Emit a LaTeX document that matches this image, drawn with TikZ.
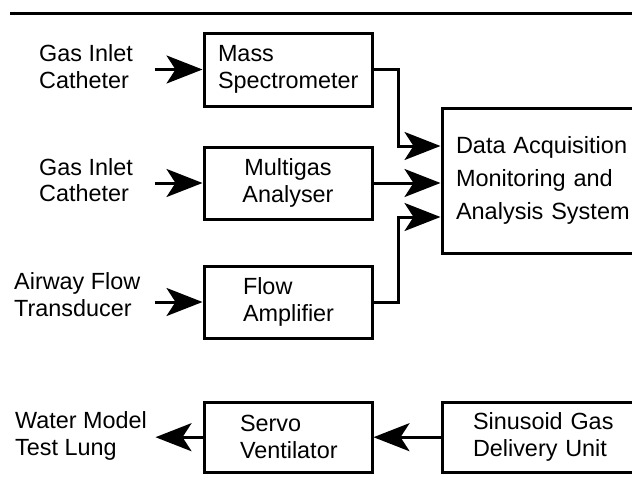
\documentclass[tikz,border=0pt]{standalone}
\usepackage{fontspec}
\setmainfont{Liberation Sans}
\usetikzlibrary{arrows.meta}
\newcommand{\bigfont}{\fontsize{23.4}{26.6}\selectfont}
\newcommand{\daqfont}{\fontsize{23.5}{32.7}\selectfont}
\tikzset{
  lbl/.style={font=\bigfont, align=left, inner sep=0pt, anchor=base west},
  box/.style={draw, line width=3pt, font=\bigfont, align=left, inner xsep=0pt, inner ysep=0pt},
  conn/.style={line width=3pt, -{Stealth[length=36pt,width=28pt,inset=9pt]}},
  rule/.style={line width=2.3pt}
}
\begin{document}
\begin{tikzpicture}[x=1pt,y=-1pt]
\clip (0,0) rectangle (632,480);
\coordinate (r1) at (10,13.5);
\coordinate (r2) at (640,13.5);
\draw[rule] (r1) -- (r2);

% boxes
\node[box, minimum width=168pt, minimum height=73pt, text width=168pt] (ms) at (288,69.5)
  {\hspace*{14pt}Mass\\\hspace*{14pt}Spectrometer};
\node[box, minimum width=168pt, minimum height=72pt, text width=168pt, align=center] (mg) at (288,183)
  {Multigas\\Analyser};
\node[box, minimum width=168pt, minimum height=72pt, text width=168pt] (fa) at (288,302)
  {\hspace*{39pt}Flow\\\hspace*{39pt}Amplifier};
\node[box, font=\daqfont, minimum width=218pt, minimum height=145pt, text width=218pt] (daq) at (551,180.5)
  {\hspace*{14pt}Data Acquisition\\\hspace*{14pt}Monitoring and\\\hspace*{14pt}Analysis System};
\node[box, minimum width=168pt, minimum height=70pt, text width=168pt] (sv) at (288,437.2)
  {\hspace*{36pt}Servo\\\hspace*{36pt}Ventilator};
\node[box, minimum width=218pt, minimum height=70pt, text width=218pt] (sg) at (551,437.2)
  {\hspace*{31pt}Sinusoid Gas\\\hspace*{31pt}Delivery Unit};

% labels (anchored at the baseline of the last line)
\node[lbl] (gi1) at (39,88.3) {Gas Inlet\\Catheter};
\node[lbl] (gi2) at (39,201.7) {Gas Inlet\\Catheter};
\node[lbl] (af) at (14,316.3) {Airway Flow\\Transducer};
\node[lbl] (wm) at (15,455) {Water Model\\Test Lung};

% connectors
\draw[conn] ([xshift=-48pt]ms.west) -- (ms.west);
\draw[conn] ([xshift=-48pt]mg.west) -- (mg.west);
\draw[conn] ([xshift=-48pt]fa.west) -- (fa.west);
\draw[conn] (ms.east) -- ++(24.7,0) |- ([yshift=34.5pt]daq.west);
\draw[conn] (mg.east) -- (mg.east -| daq.west);
\draw[conn] (fa.east) -- ++(24.7,0) |- ([yshift=-36.5pt]daq.west);
\draw[conn] (sg.west) -- (sv.east);
\draw[conn] (sv.west) -- ([xshift=-47pt]sv.west);
\end{tikzpicture}
\end{document}
